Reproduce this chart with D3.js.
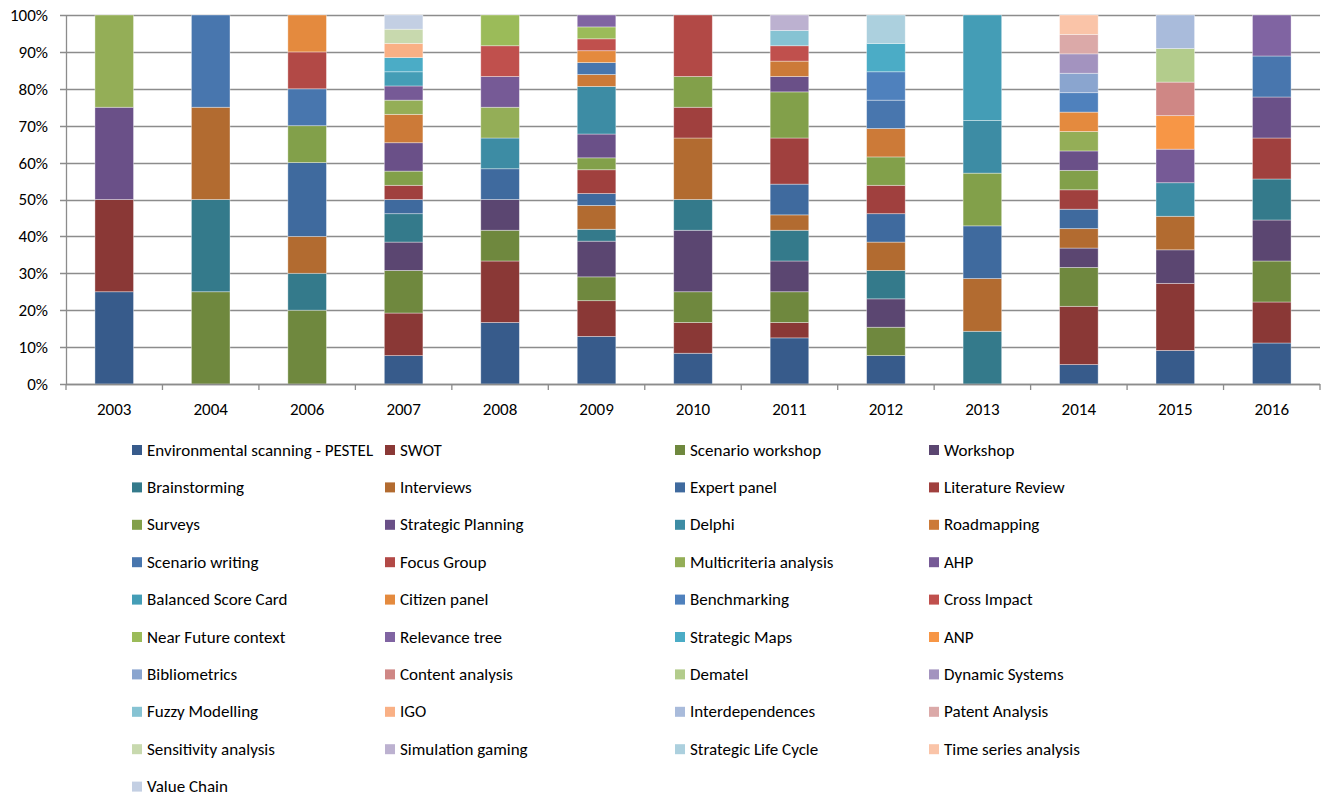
<!DOCTYPE html>
<html><head><meta charset="utf-8">
<script src="https://cdn.jsdelivr.net/npm/d3@7"></script>
<style>body{margin:0;background:#fff} text{font-family:Carlito,Lato,"Open Sans",sans-serif;fill:#000}</style>
</head><body><svg id="c" width="1325" height="797"></svg>
<script>
const years = ["2003","2004","2006","2007","2008","2009","2010","2011","2012","2013","2014","2015","2016"];
const yTicks = [0,0.1,0.2,0.3,0.4,0.5,0.6,0.7,0.8,0.9,1];

// counts per method, one value per year (same order as years)
const pestel            = [1,0,0,2,2,4,1,3,1,0,1,1,1];
const swot              = [1,0,0,3,2,3,1,1,0,0,3,2,1];
const scenarioWorkshop  = [0,1,2,3,1,2,1,2,1,0,2,0,1];
const workshop          = [0,0,0,2,1,3,2,2,1,0,1,1,1];
const brainstorming     = [0,1,1,2,0,1,1,2,1,1,0,0,1];
const interviews        = [0,1,1,0,0,2,2,1,1,1,1,1,0];
const expertPanel       = [0,0,2,1,1,1,0,2,1,1,1,0,0];
const literatureReview  = [0,0,0,1,0,2,1,3,1,0,1,0,1];
const surveys           = [0,0,1,1,0,1,1,3,1,1,1,0,0];
const strategicPlanning = [1,0,0,2,0,2,0,1,0,0,1,0,1];
const delphi            = [0,0,0,0,1,4,0,0,0,1,0,1,0];
const roadmapping       = [0,0,0,2,0,1,0,1,1,0,0,0,0];
const scenarioWriting   = [0,1,1,0,0,1,0,0,1,0,0,0,1];
const focusGroup        = [0,0,1,0,0,0,2,0,0,0,0,0,0];
const multicriteria     = [1,0,0,1,1,0,0,0,0,0,1,0,0];
const ahp               = [0,0,0,1,1,0,0,0,0,0,0,1,0];
const balancedScoreCard = [0,0,0,1,0,0,0,0,0,2,0,0,0];
const citizenPanel      = [0,0,1,0,0,1,0,0,0,0,1,0,0];
const benchmarking      = [0,0,0,0,0,0,0,0,1,0,1,0,0];
const crossImpact       = [0,0,0,0,1,1,0,1,0,0,0,0,0];
const nearFuture        = [0,0,0,0,1,1,0,0,0,0,0,0,0];
const relevanceTree     = [0,0,0,0,0,1,0,0,0,0,0,0,1];
const strategicMaps     = [0,0,0,1,0,0,0,0,1,0,0,0,0];
const anp               = [0,0,0,0,0,0,0,0,0,0,0,1,0];
const bibliometrics     = [0,0,0,0,0,0,0,0,0,0,1,0,0];
const contentAnalysis   = [0,0,0,0,0,0,0,0,0,0,0,1,0];
const dematel           = [0,0,0,0,0,0,0,0,0,0,0,1,0];
const dynamicSystems    = [0,0,0,0,0,0,0,0,0,0,1,0,0];
const fuzzyModelling    = [0,0,0,0,0,0,0,1,0,0,0,0,0];
const igo               = [0,0,0,1,0,0,0,0,0,0,0,0,0];
const interdependences  = [0,0,0,0,0,0,0,0,0,0,0,1,0];
const patentAnalysis    = [0,0,0,0,0,0,0,0,0,0,1,0,0];
const sensitivity       = [0,0,0,1,0,0,0,0,0,0,0,0,0];
const simulationGaming  = [0,0,0,0,0,0,0,1,0,0,0,0,0];
const strategicLifeCycle= [0,0,0,0,0,0,0,0,1,0,0,0,0];
const timeSeries        = [0,0,0,0,0,0,0,0,0,0,1,0,0];
const valueChain        = [0,0,0,1,0,0,0,0,0,0,0,0,0];

const seriesNames = ["Environmental scanning - PESTEL","SWOT","Scenario workshop","Workshop","Brainstorming","Interviews","Expert panel","Literature Review","Surveys","Strategic Planning","Delphi","Roadmapping","Scenario writing","Focus Group","Multicriteria analysis","AHP","Balanced Score Card","Citizen panel","Benchmarking","Cross Impact","Near Future context","Relevance tree","Strategic Maps","ANP","Bibliometrics","Content analysis","Dematel","Dynamic Systems","Fuzzy Modelling","IGO","Interdependences","Patent Analysis","Sensitivity analysis","Simulation gaming","Strategic Life Cycle","Time series analysis","Value Chain"];
const seriesValues = [pestel,swot,scenarioWorkshop,workshop,brainstorming,interviews,expertPanel,literatureReview,surveys,strategicPlanning,delphi,roadmapping,scenarioWriting,focusGroup,multicriteria,ahp,balancedScoreCard,citizenPanel,benchmarking,crossImpact,nearFuture,relevanceTree,strategicMaps,anp,bibliometrics,contentAnalysis,dematel,dynamicSystems,fuzzyModelling,igo,interdependences,patentAnalysis,sensitivity,simulationGaming,strategicLifeCycle,timeSeries,valueChain];
const seriesColors = ["#375b8b","#8a3836","#6f883e","#5b4671","#347a8b","#b26b30","#3f6a9e","#a0403e","#82a04a","#6a5088","#3d8ca4","#cc7a38","#4876ae","#b24946","#94ae57","#765a96","#449db6","#e48a3e","#4f81bd","#c0504d","#9bbb59","#8064a2","#4bacc6","#f79646","#8aa5cf","#cf8785","#b3cc8c","#a393bf","#86c3d3","#f9b085","#a9bbdb","#dba9a8","#c8d9ae","#bcb1d0","#acd0de","#fac4a8","#c3cfe3"];

const svg = d3.select("#c");
const pLeft = 66, pRight = 1320, pTop = 15, pBottom = 384;
const FS = 17;

const x = d3.scaleBand().domain(years).range([pLeft, pRight]).paddingInner(0.6).paddingOuter(0.3);
const y = d3.scaleLinear().domain([0, 1]).range([pBottom, pTop]);

const table = years.map((yr, i) => {
  const row = {year: yr};
  seriesValues.forEach((arr, k) => row[k] = arr[i]);
  return row;
});
const keys = seriesValues.map((_, k) => k);
const stacked = d3.stack().keys(keys).offset(d3.stackOffsetExpand)(table);

// gridlines
svg.append("g").selectAll("line").data(yTicks).join("line")
  .attr("x1", pLeft - 6).attr("x2", pRight)
  .attr("y1", d => Math.round(y(d)) + 0.5).attr("y2", d => Math.round(y(d)) + 0.5)
  .attr("stroke", "#8c8c8c").attr("stroke-width", 1.3);

// y axis
const yAxis = d3.axisLeft(y).tickValues(yTicks).tickFormat(d3.format(".0%")).tickSize(0).tickPadding(18);
const gy = svg.append("g").attr("transform", `translate(${pLeft},0)`).call(yAxis);
gy.select(".domain").attr("stroke", "#8c8c8c").attr("stroke-width", 1.3);
gy.selectAll("text").attr("font-size", FS).style("font-family", "Carlito,Lato,'Open Sans',sans-serif").attr("fill", "#000");

// bars
svg.append("g").selectAll("g").data(stacked).join("g")
  .attr("fill", d => seriesColors[d.key])
  .selectAll("rect").data(d => d.filter(s => s[1] - s[0] > 0)).join("rect")
  .attr("x", d => x(d.data.year))
  .attr("width", x.bandwidth())
  .attr("y", d => y(d[1]))
  .attr("height", d => y(d[0]) - y(d[1]))
  .attr("stroke", "rgba(255,255,255,0.45)").attr("stroke-width", 0.8);

// x axis
const gx = svg.append("g").attr("transform", `translate(0,${pBottom})`);
gx.append("line").attr("x1", pLeft).attr("x2", pRight).attr("y1", 0.5).attr("y2", 0.5)
  .attr("stroke", "#8c8c8c").attr("stroke-width", 1.3);
const step = x.step();
const boundaries = d3.range(years.length + 1).map(i => pLeft + i * step);
gx.selectAll("line.tk").data(boundaries).join("line").attr("class", "tk")
  .attr("x1", d => d).attr("x2", d => d).attr("y1", 0).attr("y2", 6)
  .attr("stroke", "#8c8c8c").attr("stroke-width", 1.3);
gx.selectAll("text").data(years).join("text")
  .attr("x", d => x(d) + x.bandwidth() / 2).attr("y", 25)
  .attr("text-anchor", "middle").attr("dominant-baseline", "central")
  .attr("font-size", FS).text(d => d);

// legend
const colX = [132, 385, 675, 929];
const rowY0 = 450, rowStep = 37.4;
const lg = svg.append("g").selectAll("g").data(seriesNames).join("g")
  .attr("transform", (d, i) => `translate(${colX[i % 4]},${rowY0 + Math.floor(i / 4) * rowStep})`);
lg.append("rect").attr("x", 0).attr("y", -5).attr("width", 10).attr("height", 10)
  .attr("fill", (d, i) => seriesColors[i]);
lg.append("text").attr("x", 15).attr("y", 0).attr("dominant-baseline", "central")
  .attr("font-size", FS).text(d => d);
</script>
</body></html>
